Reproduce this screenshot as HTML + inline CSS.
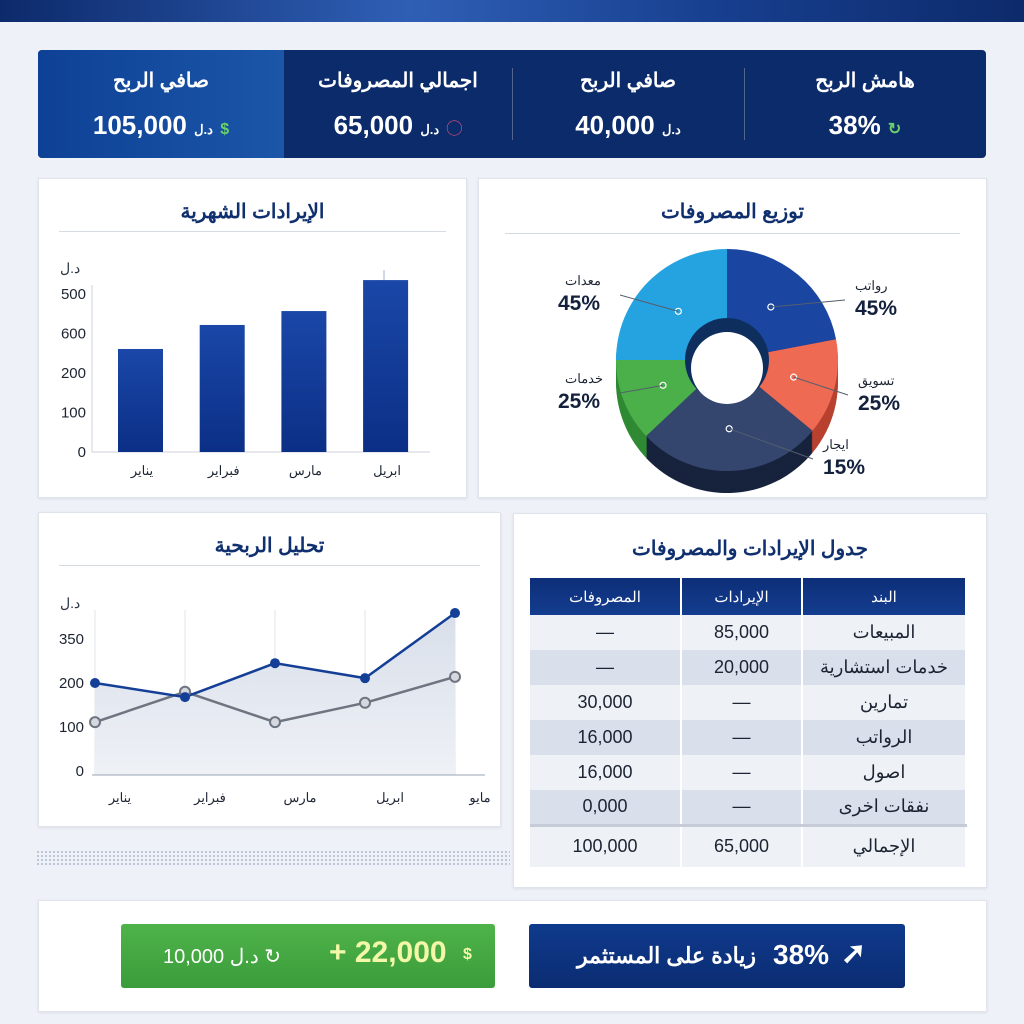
<!DOCTYPE html>
<html><head><meta charset="utf-8"><style>
*{box-sizing:border-box;margin:0;padding:0}
body{width:1024px;height:1024px;background:#eef2f8;font-family:"Liberation Sans","Noto Sans CJK SC",sans-serif;position:relative;overflow:hidden}
.abs{position:absolute}
.panel{position:absolute;background:#fff;border:1px solid #dfe4ec;box-shadow:0 1px 3px rgba(0,0,0,.08)}
.kpi{position:absolute;top:0;height:108px;color:#fff;text-align:center}
.kpi .t{position:absolute;top:18px;left:0;right:0;font-size:20px;font-weight:bold}
.kpi .v{position:absolute;top:60px;left:0;right:0;font-size:26px;font-weight:bold}
.kpi .v small{font-size:13px}
table{border-collapse:collapse}
td{height:35px;font-size:18px;color:#1c2433;text-align:center;border-right:2px solid #fff}
</style></head><body>
<div class="abs" style="left:0;top:0;width:1024px;height:22px;background:linear-gradient(90deg,#0d2a6b,#2f5fb5 40%,#173f8f 70%,#0d2a6b)"></div>

<div class="abs" style="left:38px;top:50px;width:948px;height:108px;border-radius:4px;background:#0c2b6b;overflow:hidden">
  <div class="abs" style="left:0;top:0;width:246px;height:108px;background:linear-gradient(90deg,#0e4196,#1b56a8)"></div>
  <div class="kpi" style="left:0;width:246px"><div class="t">صافي الربح</div><div class="v"><small>د.ل</small> 105,000 <span style="color:#6bd06b;font-size:16px">$</span></div></div>
  <div class="kpi" style="left:246px;width:228px"><div class="t">اجمالي المصروفات</div><div class="v"><small>د.ل</small> 65,000 <span style="color:#e0507a;font-size:16px">◯</span></div></div>
  <div class="abs" style="left:474px;top:18px;width:1px;height:72px;background:#51658f"></div>
  <div class="kpi" style="left:474px;width:232px"><div class="t">صافي الربح</div><div class="v"><small>د.ل</small> 40,000</div></div>
  <div class="abs" style="left:706px;top:18px;width:1px;height:72px;background:#51658f"></div>
  <div class="kpi" style="left:706px;width:242px"><div class="t">هامش الربح</div><div class="v">38% <span style="color:#6bd06b;font-size:16px">↻</span></div></div>
</div>

<!-- bar chart -->
<div class="panel" style="left:38px;top:178px;width:429px;height:320px">
  <div class="abs" style="left:0;right:0;top:20px;text-align:center;font-size:20px;font-weight:bold;color:#0f2f6e">الإيرادات الشهرية</div>
  <div class="abs" style="left:20px;right:20px;top:52px;height:1px;background:#d6dbe3"></div>
</div>
<svg class="abs" style="left:0;top:0" width="1024" height="1024" id="barsvg">
<defs><linearGradient id="bg" x1="0" y1="0" x2="0" y2="1"><stop offset="0" stop-color="#1a47a8"/><stop offset="1" stop-color="#0b2f86"/></linearGradient>
<linearGradient id="area" x1="0" y1="0" x2="0" y2="1"><stop offset="0" stop-color="#d9dfea"/><stop offset="1" stop-color="#eef1f6"/></linearGradient></defs>
</svg>

<!-- pie panel -->
<div class="panel" style="left:478px;top:178px;width:509px;height:320px">
  <div class="abs" style="left:0;right:0;top:20px;text-align:center;font-size:20px;font-weight:bold;color:#0f2f6e">توزيع المصروفات</div>
  <div class="abs" style="left:26px;right:26px;top:54px;height:1px;background:#d6dbe3"></div>
</div>
<svg class="abs" style="left:0;top:0" width="1024" height="1024" id="piesvg"></svg>

<!-- line panel -->
<div class="panel" style="left:38px;top:512px;width:463px;height:315px">
  <div class="abs" style="left:0;right:0;top:20px;text-align:center;font-size:20px;font-weight:bold;color:#0f2f6e">تحليل الربحية</div>
  <div class="abs" style="left:20px;right:20px;top:52px;height:1px;background:#d6dbe3"></div>
</div>
<svg class="abs" style="left:0;top:0" width="1024" height="1024" id="linesvg"></svg>

<div class="abs" style="left:36px;top:850px;width:474px;height:15px;background-image:radial-gradient(#b8c2d2 1px,transparent 1.2px);background-size:4px 4px"></div>

<!-- table panel -->
<div class="panel" style="left:513px;top:513px;width:474px;height:375px">
  <div class="abs" style="left:0;right:0;top:22px;text-align:center;font-size:20px;font-weight:bold;color:#0f2f6e">جدول الإيرادات والمصروفات</div>
  <table class="abs" style="left:16px;top:64px;width:437px">
    <tr style="background:linear-gradient(#0d2e78,#143d8f)"><td style="color:#fff;width:151px;height:37px;font-size:15px">المصروفات</td><td style="color:#fff;width:121px;font-size:15px">الإيرادات</td><td style="color:#fff;font-size:15px">البند</td></tr>
    <tr style="background:#eef1f6"><td>—</td><td>85,000</td><td>المبيعات</td></tr>
    <tr style="background:#d9e0ec"><td>—</td><td>20,000</td><td>خدمات استشارية</td></tr>
    <tr style="background:#eef1f6"><td>30,000</td><td>—</td><td>تمارين</td></tr>
    <tr style="background:#d9e0ec"><td>16,000</td><td>—</td><td>الرواتب</td></tr>
    <tr style="background:#eef1f6"><td>16,000</td><td>—</td><td>اصول</td></tr>
    <tr style="background:#d9e0ec"><td>0,000</td><td>—</td><td>نفقات اخرى</td></tr>
    <tr style="background:#eef1f6;border-top:3px solid #c5ccd8"><td style="height:42px">100,000</td><td>65,000</td><td>الإجمالي</td></tr>
  </table>
</div>

<!-- bottom -->
<div class="panel" style="left:38px;top:900px;width:949px;height:112px">
  <div class="abs" style="left:82px;top:23px;width:374px;height:64px;background:linear-gradient(#4fb34a,#3a9c3a);border-radius:3px;color:#fff;font-weight:bold">
    <span class="abs" style="left:42px;top:20px;font-size:20px;font-weight:normal">د.ل 10,000 ↻</span>
    <span class="abs" style="left:208px;top:12px;font-size:30px;color:#f3f8a8">+ 22,000</span>
    <span class="abs" style="left:342px;top:22px;font-size:16px;color:#f3f8a8">$</span>
  </div>
  <div class="abs" style="left:490px;top:23px;width:376px;height:64px;background:linear-gradient(#0f3a8c,#0b2c72);border-radius:3px;color:#fff;font-weight:bold">
    <span class="abs" style="left:48px;top:19px;font-size:22px">زيادة على المستثمر</span>
    <span class="abs" style="left:244px;top:15px;font-size:28px">38%</span>
    <span class="abs" style="left:312px;top:12px;font-size:30px">➚</span>
  </div>
</div>

<script>
const NS="http://www.w3.org/2000/svg";
function mk(p,t,a){const e=document.createElementNS(NS,t);for(const k in a)e.setAttribute(k,a[k]);p.appendChild(e);return e;}
// ---- bar chart data
const barCategories=["يناير","فبراير","مارس","ابريل"];
const barValues=[326,402,446,544];
const barTickValues=[0,125,250,375,500];
const barTickLabels=["0","100","200","600","500"];
const lineCategories=["يناير","فبراير","مارس","ابريل","مايو"];
const lineRevenue=[200,168,245,211,359];
const lineCost=[111,180,111,155,214];
const lineTickValues=[0,100,200,300];
const lineTickLabels=["0","100","200","350"];
const pieLabels=["رواتب","تسويق","ايجار","خدمات","معدات"];
const pieValues=[22,14,27,12,25];
const pieDisplay=["45%","25%","15%","25%","45%"];

// bar
(function(){
const s=document.getElementById('barsvg');
const y=v=>452-v/500*158, x=i=>140+i*81.7;
mk(s,'line',{x1:92,y1:285,x2:92,y2:452,stroke:'#ccd2dc'});
mk(s,'line',{x1:92,y1:452,x2:430,y2:452,stroke:'#ccd2dc'});
let t=mk(s,'text',{x:60,y:273,'font-size':14,fill:'#2b3445'});t.textContent='د.ل';
barTickValues.forEach((v,i)=>{const e=mk(s,'text',{x:86,y:y(v)+5,'text-anchor':'end','font-size':15,fill:'#1c2433'});e.textContent=barTickLabels[i];});
mk(s,'line',{x1:384,y1:270,x2:384,y2:282,stroke:'#9fb3d6'});
barValues.forEach((v,i)=>{
 const r=mk(s,'rect',{x:x(i)-22,y:y(v),width:45,height:452-y(v),fill:'url(#bg)'});
 
 
 const l=mk(s,'text',{x:x(i)+2,y:475,'text-anchor':'middle','font-size':13,fill:'#1c2433'});l.textContent=barCategories[i];
});
})();

// line
(function(){
const s=document.getElementById('linesvg');
const y=v=>771-v/100*44, x=i=>95+i*90;
let t=mk(s,'text',{x:60,y:608,'font-size':14,fill:'#2b3445'});t.textContent='د.ل';
lineTickValues.forEach((v,i)=>{const e=mk(s,'text',{x:84,y:y(v)+5,'text-anchor':'end','font-size':15,fill:'#1c2433'});e.textContent=lineTickLabels[i];});
for(let i=0;i<5;i++)mk(s,'line',{x1:x(i),y1:610,x2:x(i),y2:775,stroke:'#e2e6ed'});
let ap='M'+x(0)+','+y(lineRevenue[0]);lineRevenue.forEach((v,i)=>ap+='L'+x(i)+','+y(v));ap+='L'+x(4)+',775L'+x(0)+',775Z';
mk(s,'path',{d:ap,fill:'url(#area)'});
mk(s,'line',{x1:92,y1:775,x2:485,y2:775,stroke:'#9aa4b4'});
const pts=a=>a.map((v,i)=>x(i)+','+y(v)).join(' ');
mk(s,'polyline',{points:pts(lineCost),fill:'none',stroke:'#6e7480','stroke-width':2.5});
mk(s,'polyline',{points:pts(lineRevenue),fill:'none',stroke:'#143f96','stroke-width':2.5});
lineCost.forEach((v,i)=>{const c=mk(s,'circle',{cx:x(i),cy:y(v),r:5,fill:'#d5d8de',stroke:'#6e7480','stroke-width':2});});
lineRevenue.forEach((v,i)=>{const c=mk(s,'circle',{cx:x(i),cy:y(v),r:5,fill:'#143f96'});});
lineCategories.forEach((c,i)=>{const e=mk(s,'text',{x:x(i)+25,y:802,'text-anchor':'middle','font-size':13,fill:'#1c2433'});e.textContent=c;});
})();

// pie
(function(){
const s=document.getElementById('piesvg');
const cx=727,cy=360,R=111,ri=40;
const cols=['#1a45a0','#ee6a52','#34466e','#4cb04a','#25a3e0'];
const dark=['#0f2c6c','#b8412f','#17223c','#2f8a33','#1577b0'];
const tot=pieValues.reduce((a,b)=>a+b,0);
const pt=(a,r,dy)=>[cx+r*Math.sin(a),cy+(dy||0)-r*Math.cos(a)];
function arc(a0,a1,dy){const p0=pt(a0,R,dy),p1=pt(a1,R,dy);const lg=a1-a0>Math.PI?1:0;return `M${cx},${cy+dy}L${p0}A${R},${R} 0 ${lg} 1 ${p1}Z`;}
let a=0;const angs=[];
pieValues.forEach(v=>{const b=a+v/tot*2*Math.PI;angs.push([a,b]);a=b;});
for(let d=22;d>0;d-=2)angs.forEach((g,i)=>mk(s,'path',{d:arc(g[0],g[1],d),fill:dark[i]}));
angs.forEach((g,i)=>{const p=mk(s,'path',{d:arc(g[0],g[1],0),fill:cols[i]});});
mk(s,'circle',{cx:cx,cy:cy,r:ri+2,fill:'#0e2f5e'});
mk(s,'circle',{cx:cx,cy:cy+8,r:ri-4,fill:'#fff'});
const lab=[[855,290,'start'],[858,385,'start'],[823,449,'start'],[560,383,'start'],[560,285,'start']];
angs.forEach((g,i)=>{
 const m=(g[0]+g[1])/2;const p=pt(m,R*0.62,0);
 mk(s,'circle',{cx:p[0],cy:p[1],r:3,fill:'none',stroke:'#fff','stroke-width':1.2});
 const L=lab[i];
 mk(s,'line',{x1:p[0],y1:p[1],x2:L[0]<cx?L[0]+60:L[0]-10,y2:L[1]+10,stroke:'#555e6e','stroke-width':1});
 const n=mk(s,'text',{x:L[0]<cx?L[0]+5:L[0],y:L[1],'font-size':13,fill:'#1c2433'});n.textContent=pieLabels[i];
 const v=mk(s,'text',{x:L[0]<cx?L[0]-2:L[0],y:L[1]+25,'font-size':21,'font-weight':'bold',fill:'#14213d'});v.textContent=pieDisplay[i];
});
})();
</script>
</body></html>
